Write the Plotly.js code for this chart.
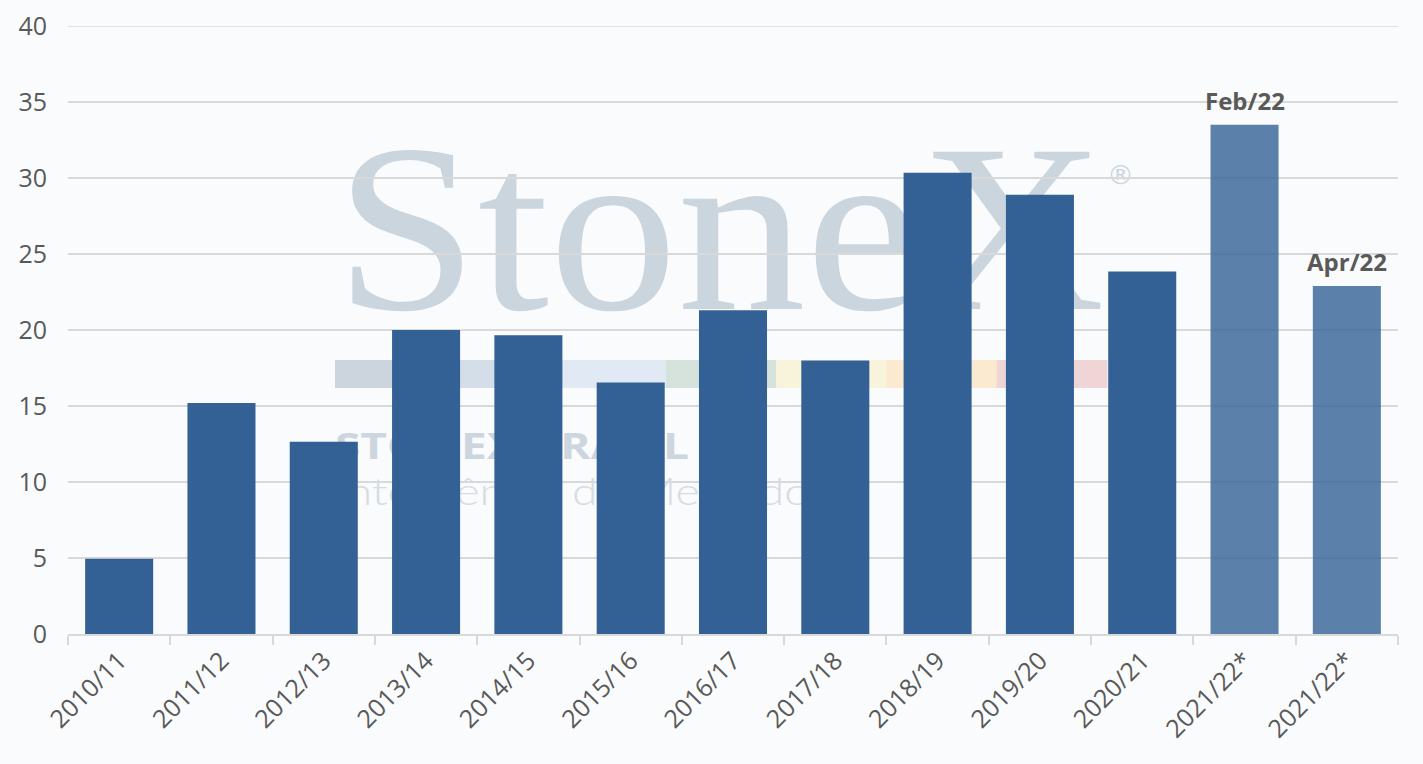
<!DOCTYPE html>
<html>
<head>
<meta charset="utf-8">
<script src="https://cdn.plot.ly/plotly-3.0.1.min.js"></script>
<style>
  html, body { margin: 0; padding: 0; background: #fafbfc; overflow: hidden; }
  #wm { position: absolute; left: 0; top: 0; z-index: 0; }
  #chart { position: absolute; left: 0; top: 0; width: 1423px; height: 764px; z-index: 1; }
</style>
</head>
<body>
<svg id="wm" width="1423" height="764" xmlns="http://www.w3.org/2000/svg">
  <text x="335" y="309" font-family="Liberation Serif, DejaVu Serif, serif" font-size="240" fill="#cbd5de" textLength="770" lengthAdjust="spacingAndGlyphs">StoneX</text>
  <text x="1107" y="184" font-family="DejaVu Sans, sans-serif" font-size="27" fill="#cbd5de">®</text>
  <g id="stripe"></g>
  <text x="335" y="459" font-family="Open Sans, sans-serif" font-weight="700" font-size="36" fill="#cdd5de" textLength="354" lengthAdjust="spacingAndGlyphs">STONEX BRASIL</text>
  <text x="335" y="505" font-family="Lato, Open Sans, sans-serif" font-weight="300" font-size="37" fill="#d5dce3" textLength="475" lengthAdjust="spacingAndGlyphs">Inteligência de Mercado</text>
</svg>
<div id="chart"></div>
<script>
// ---- data ----
const seasons = ["2010/11","2011/12","2012/13","2013/14","2014/15","2015/16","2016/17","2017/18","2018/19","2019/20","2020/21","2021/22*","2021/22*"];
const values  = [4.95, 15.2, 12.65, 20.0, 19.65, 16.55, 21.3, 18.0, 30.35, 28.9, 23.85, 33.5, 22.9];
const estimateLabels = ["","","","","","","","","","","","Feb/22","Apr/22"];
const yTicks = [0,5,10,15,20,25,30,35,40];

// ---- watermark stripe ----
const stripeColors = ["#ccd5de","#d4dee9","#e1eaf4","#d5e3dc","#f8f4dc","#fbeacf","#efd5d5"];
const stripe = document.getElementById("stripe");
const segW = (1107 - 335) / stripeColors.length;
stripeColors.forEach((c, i) => {
  const r = document.createElementNS("http://www.w3.org/2000/svg", "rect");
  r.setAttribute("x", 335 + i * segW);
  r.setAttribute("y", 360);
  r.setAttribute("width", segW + 0.5);
  r.setAttribute("height", 28);
  r.setAttribute("fill", c);
  stripe.appendChild(r);
});

// ---- chart ----
const idx = seasons.map((s, i) => i);
const baseColor = "rgb(51,97,149)";
const estColor = "rgba(51,97,149,0.8)";
const colors = estimateLabels.map(l => l ? estColor : baseColor);
const yMax = yTicks[yTicks.length - 1];

const trace = {
  type: "bar",
  x: idx,
  y: values,
  marker: { color: colors, line: { width: 0 } },
  hoverinfo: "y",
  cliponaxis: false
};

const annotations = [];
estimateLabels.forEach((l, i) => {
  if (l) annotations.push({
    x: i, y: values[i], xref: "x", yref: "y",
    text: "<b>" + l + "</b>", showarrow: false,
    yanchor: "bottom", yshift: 6,
    font: { family: "Open Sans, sans-serif", size: 24, color: "#595959" }
  });
});

const layout = {
  width: 1423, height: 764,
  margin: { l: 68, r: 25, t: 26, b: 130 },
  paper_bgcolor: "rgba(0,0,0,0)",
  plot_bgcolor: "rgba(0,0,0,0)",
  bargap: 0.335,
  showlegend: false,
  xaxis: {
    type: "category",
    tickmode: "array",
    tickvals: idx,
    ticktext: seasons,
    tickson: "boundaries",
    ticks: "outside",
    ticklen: 9,
    tickwidth: 2,
    tickcolor: "#d9d9d9",
    showline: true,
    linecolor: "#d9d9d9",
    linewidth: 2,
    showgrid: false,
    tickangle: -45,
    tickfont: { family: "Open Sans, sans-serif", size: 25, color: "#595959" },
    range: [-0.5, 12.5]
  },
  yaxis: {
    range: [0, yMax],
    tickmode: "array",
    tickvals: yTicks,
    ticktext: yTicks.map(String),
    showgrid: true,
    gridcolor: "#d9d9d9",
    gridwidth: 1.5,
    zeroline: false,
    showline: false,
    ticks: "",
    ticklabelstandoff: 20,
    tickfont: { family: "Open Sans, sans-serif", size: 25, color: "#595959" }
  },
  shapes: [{
    type: "line", xref: "paper", yref: "y", x0: 0, x1: 1, y0: yMax, y1: yMax,
    layer: "below", line: { color: "#d9d9d9", width: 1.5 }
  }],
  annotations: annotations
};

Plotly.newPlot("chart", [trace], layout, { displayModeBar: false, staticPlot: true });
</script>
</body>
</html>
